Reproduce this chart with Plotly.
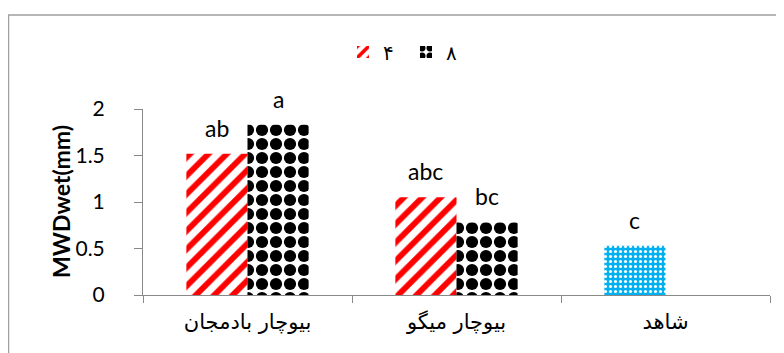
import plotly.graph_objects as go

# === Data
categories = ["بیوچار بادمجان", "بیوچار میگو", "شاهد"]
series_names = ["۴", "۸"]
values_4 = [1.52, 1.05, 0.53]
values_8 = [1.83, 0.78, None]
letters_4 = ["ab", "abc", "c"]
letters_8 = ["a", "bc", ""]
control = "شاهد"
y_ticks = [0, 0.5, 1, 1.5, 2]

# === Layout constants (page body adds 8px margin on left/top)
W, H = 776, 345
M = dict(l=135, r=14, t=101, b=58)
BARGAP = 0.415
LATIN = "Lato, Carlito, Calibri, sans-serif"
PERSIAN = "DejaVu Sans, Liberation Sans, sans-serif"
AXIS_GRAY = "#898989"

red_y = [None if c == control else v for c, v in zip(categories, values_4)]
blue_y = [v if c == control else None for c, v in zip(categories, values_4)]

fig = go.Figure()

# series 4: red diagonal stripes
fig.add_trace(go.Bar(
    x=categories, y=red_y, name=series_names[0], offsetgroup="s4",
    marker=dict(
        color="#FFFFFF", line=dict(width=0),
        pattern=dict(fillmode="replace", shape="/", fgcolor="#FF0000",
                     bgcolor="#FFFFFF", fgopacity=1, size=13, solidity=0.45),
    ),
))

# series 8: black dot grid
fig.add_trace(go.Bar(
    x=categories, y=values_8, name=series_names[1], offsetgroup="s8",
    marker=dict(
        color="#FFFFFF", line=dict(width=0),
        pattern=dict(fillmode="replace", shape=".", fgcolor="#000000",
                     bgcolor="#FFFFFF", fgopacity=1, size=14, solidity=0.6),
    ),
))

# control bar of series 4, drawn blue in the original
fig.add_trace(go.Bar(
    x=categories, y=blue_y, name=series_names[0], offsetgroup="s4",
    showlegend=False,
    marker=dict(
        color="#00B0F0", line=dict(width=0),
        pattern=dict(fillmode="replace", shape=".", fgcolor="#FFFFFF",
                     bgcolor="#00B0F0", fgopacity=1, size=5, solidity=0.3),
    ),
))

# === Significance letters above bars
bw = (1 - BARGAP) / 2
for offset, vals, letters in [(-bw / 2, values_4, letters_4), (bw / 2, values_8, letters_8)]:
    for i, (v, t) in enumerate(zip(vals, letters)):
        if v is None or not t:
            continue
        fig.add_annotation(
            x=i + offset, y=v, text=t, showarrow=False,
            yanchor="bottom", yshift=10,
            font=dict(family=LATIN, size=23, color="#000000"),
        )

pw = W - M["l"] - M["r"]
ph = H - M["t"] - M["b"]

# y-axis title placed like the original
fig.add_annotation(
    text="<b>MWDwet(mm)</b>", textangle=-90, showarrow=False,
    xref="paper", yref="paper", x=(53 - M["l"]) / pw, y=0.5,
    xanchor="center", yanchor="middle",
    font=dict(family=LATIN, size=23, color="#000000"),
)

# === Outer chart border
fig.add_shape(
    type="rect", xref="paper", yref="paper",
    x0=(0.5 - M["l"]) / pw, x1=(W + 5 - M["l"]) / pw,
    y0=(M["t"] + ph - (H + 5)) / ph, y1=(M["t"] + ph - 7) / ph,
    line=dict(color="#A0A0A0", width=1.5),
)

fig.update_layout(
    width=W, height=H, margin=M,
    barmode="group", bargap=BARGAP, bargroupgap=0,
    plot_bgcolor="white", paper_bgcolor="white",
    showlegend=True,
    legend=dict(
        orientation="h", x=(398 - M["l"]) / pw, xanchor="center",
        y=(M["t"] + ph - 44) / ph, yanchor="middle",
        font=dict(family=PERSIAN, size=20, color="#000000"),
        itemwidth=30, entrywidth=18, entrywidthmode="pixels",
        bgcolor="rgba(0,0,0,0)",
    ),
    xaxis=dict(
        type="category", showline=True, linecolor=AXIS_GRAY, linewidth=1,
        ticks="outside", tickson="boundaries", ticklen=7, tickcolor=AXIS_GRAY,
        tickfont=dict(family=PERSIAN, size=21, color="#000000"),
        ticklabelstandoff=8,
    ),
    yaxis=dict(
        range=[0, 2], tickvals=y_ticks, ticktext=[f"{v:g}" for v in y_ticks],
        showgrid=False, zeroline=False,
        showline=True, linecolor=AXIS_GRAY, linewidth=1,
        ticks="outside", ticklen=8, tickcolor=AXIS_GRAY,
        ticklabelstandoff=25,
        tickfont=dict(family=LATIN, size=21, color="#000000"),
        automargin=False,
    ),
)

fig.write_html("out.html")
